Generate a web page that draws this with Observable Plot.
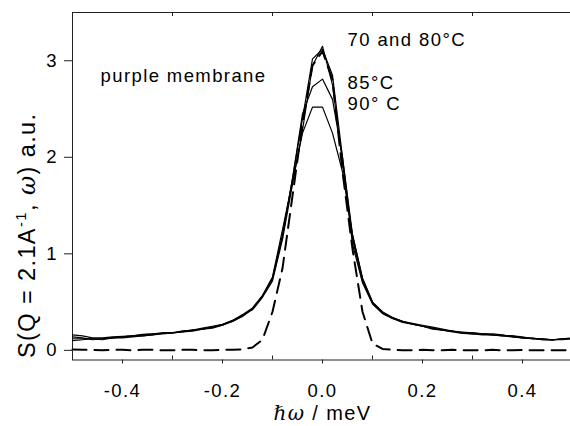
<!DOCTYPE html>
<html>
<head>
<meta charset="utf-8">
<script src="https://cdn.jsdelivr.net/npm/d3@7"></script>
<script src="https://cdn.jsdelivr.net/npm/@observablehq/plot@0.6"></script>
<style>
  html, body { margin: 0; padding: 0; background: white; }
</style>
</head>
<body>
<div id="chart"></div>
<script>
// Energy transfer grid (meV)
const xs = [-0.50,-0.48,-0.46,-0.44,-0.42,-0.40,-0.38,-0.36,-0.34,-0.32,
            -0.30,-0.28,-0.26,-0.24,-0.22,-0.20,-0.18,-0.16,-0.14,-0.12,
            -0.10,-0.08,-0.06,-0.04,-0.02, 0.00, 0.02, 0.04, 0.06, 0.08,
             0.10, 0.12, 0.14, 0.16, 0.18, 0.20, 0.22, 0.24, 0.26, 0.28,
             0.30, 0.32, 0.34, 0.36, 0.38, 0.40, 0.42, 0.44, 0.46, 0.48, 0.50];

const t70 = [0.14,0.13,0.11,0.12,0.13,0.14,0.15,0.16,0.17,0.175,
             0.18,0.19,0.21,0.22,0.24,0.27,0.31,0.36,0.42,0.55,
             0.72,1.15,1.72,2.28,2.95,3.15,2.75,1.95,1.10,0.70,
             0.48,0.38,0.33,0.30,0.27,0.25,0.23,0.21,0.19,0.175,
             0.17,0.17,0.17,0.16,0.14,0.13,0.13,0.11,0.105,0.12,0.13];
const t80 = [0.16,0.15,0.13,0.13,0.14,0.145,0.15,0.165,0.17,0.18,
             0.185,0.20,0.21,0.23,0.25,0.27,0.30,0.35,0.43,0.56,
             0.74,1.18,1.78,2.40,3.02,3.12,2.85,2.00,1.15,0.72,
             0.49,0.39,0.34,0.30,0.28,0.26,0.24,0.22,0.20,0.18,
             0.18,0.17,0.16,0.155,0.15,0.14,0.12,0.12,0.11,0.12,0.12];
const t85 = [0.12,0.12,0.12,0.11,0.13,0.14,0.15,0.15,0.16,0.17,
             0.18,0.19,0.20,0.22,0.23,0.26,0.30,0.36,0.43,0.56,
             0.75,1.20,1.78,2.45,2.73,2.81,2.60,2.00,1.20,0.74,
             0.50,0.39,0.33,0.29,0.27,0.25,0.23,0.21,0.20,0.19,
             0.18,0.17,0.16,0.15,0.15,0.13,0.12,0.12,0.11,0.11,0.12];
const t90 = [0.10,0.11,0.12,0.12,0.13,0.13,0.14,0.15,0.16,0.18,
             0.18,0.20,0.21,0.22,0.24,0.26,0.31,0.37,0.44,0.57,
             0.76,1.25,1.75,2.25,2.52,2.52,2.25,1.85,1.20,0.75,
             0.50,0.40,0.34,0.30,0.27,0.25,0.22,0.21,0.20,0.18,
             0.17,0.16,0.16,0.15,0.14,0.13,0.12,0.11,0.11,0.12,0.12];
// Resolution function (dashed)
const res = [0.01,0.005,0.005,0.0,0.005,0.005,0.0,0.005,0.005,0.0,
             0.0,0.005,0.005,0.0,0.0,0.005,0.005,0.01,0.03,0.11,
             0.40,0.85,1.60,2.35,2.95,3.10,2.80,1.85,1.05,0.40,
             0.07,0.015,0.005,0.0,0.0,0.005,0.0,0.0,0.005,0.0,
             0.0,0.0,0.005,0.0,0.0,0.005,0.0,0.0,0.0,0.0,0.0];

const seriesNames = ["70°C", "80°C", "85°C", "90°C"];
const seriesValues = [t70, t80, t85, t90];

const majorTicksX = [-0.4, -0.2, 0.0, 0.2, 0.4];
const minorTicksX = [-0.3, -0.1, 0.1, 0.3];
const ticksY = [0, 1, 2, 3];

const annotations = [
  {label: "purple membrane", x: -0.444, y: 2.785},
  {label: "70 and 80°C", x: 0.05, y: 3.158},
  {label: "85°C", x: 0.05, y: 2.712},
  {label: "90° C", x: 0.05, y: 2.485}
];
const xLabel = "ℏω / meV";
const yLabel = "S(Q = 2.1A-1, ω) a.u.";

const solidRows = seriesNames.flatMap((s, k) => xs.map((x, i) => ({x, y: seriesValues[k][i], s})));
const resRows = xs.map((x, i) => ({x, y: res[i]}));

const FS = 18.5;
const innerH = 426 - 12 - 66.5;

const chart = Plot.plot({
  width: 570,
  height: 426,
  marginLeft: 72,
  marginRight: -2,
  marginTop: 12,
  marginBottom: 66.5,
  style: {fontFamily: "'Liberation Sans', Arial, sans-serif", fontSize: FS + "px", letterSpacing: "1.4px", color: "black", background: "white"},
  x: {domain: [-0.5, 0.5], label: null},
  y: {domain: [-0.1, 3.5], label: null},
  marks: [
    Plot.frame({stroke: "#222", strokeWidth: 1}),
    Plot.line(solidRows, {x: "x", y: "y", z: "s", stroke: "black", strokeWidth: 1.2}),
    Plot.line(resRows, {x: "x", y: "y", stroke: "black", strokeWidth: 2, strokeDasharray: "14,8"}),
    Plot.axisX({ticks: majorTicksX, tickFormat: d => d.toFixed(1), tickSize: 4, tickPadding: 19.5, fontSize: FS, label: null, stroke: "#222"}),
    Plot.tickX(minorTicksX, {x: d => d, insetTop: innerH - 4, stroke: "#222"}),
    Plot.tickX(minorTicksX, {x: d => d, insetBottom: innerH - 4, stroke: "#222"}),
    Plot.axisY({ticks: ticksY, tickFormat: d => String(d), tickSize: 8, tickPadding: 6.5, fontSize: FS, label: null, stroke: "#222"}),
    Plot.text(annotations, {x: "x", y: "y", text: "label", textAnchor: "start", lineAnchor: "bottom", fontSize: FS}),
    Plot.text([xLabel], {frameAnchor: "bottom", dy: 60, lineAnchor: "bottom", fontSize: 20}),
    Plot.text([yLabel], {frameAnchor: "left", textAnchor: "middle", rotate: -90, dx: -38, dy: 49, lineAnchor: "bottom", fontSize: 23.5})
  ]
});

// rich text for axis labels (superscript, symbol omega)
const NS = "http://www.w3.org/2000/svg";
function tsp(parent, txt, attrs) {
  const t = document.createElementNS(NS, "tspan");
  t.textContent = txt;
  for (const k in (attrs || {})) t.setAttribute(k, attrs[k]);
  parent.appendChild(t);
}
chart.querySelectorAll("text").forEach(el => {
  if (el.textContent === yLabel) {
    el.textContent = "";
    tsp(el, "S(Q = 2.1A");
    tsp(el, "-1", {dy: "-9", "font-size": "15"});
    tsp(el, ", ", {dy: "9"});
    tsp(el, "ω", {"font-family": "'DejaVu Serif', serif", "font-style": "italic"});
    tsp(el, ") a.u.");
  } else if (el.textContent === xLabel) {
    el.textContent = "";
    tsp(el, "ℏω", {"font-family": "'DejaVu Serif', serif", "font-style": "italic"});
    tsp(el, " / meV");
  }
});

document.getElementById("chart").appendChild(chart);
</script>
</body>
</html>
